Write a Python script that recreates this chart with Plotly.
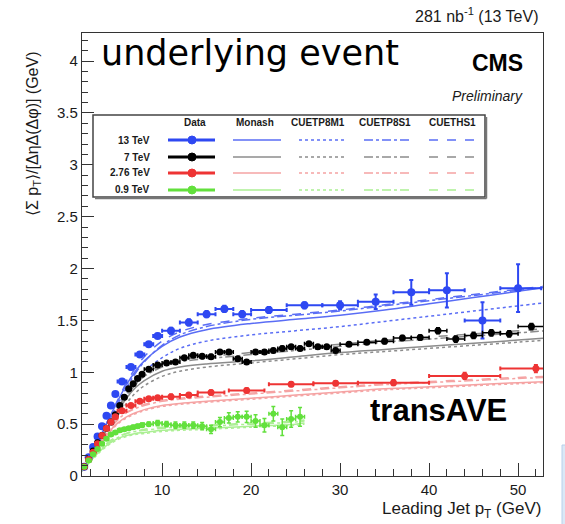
import plotly.graph_objects as go

# ---------------- measured transverse-average density ----------------
# 13 TeV
x13 = [1.25, 1.75, 2.25, 2.75, 3.25, 3.75, 4.25, 4.75, 5.5, 6.5, 7.5, 8.5, 9.5,
       11, 13, 15, 17, 19, 22, 26, 30, 34, 38, 42, 46, 50]
y13 = [0.09, 0.18, 0.28, 0.38, 0.48, 0.58, 0.68, 0.79, 0.91, 1.05, 1.17, 1.27, 1.35,
       1.40, 1.48, 1.56, 1.61, 1.56, 1.60, 1.645, 1.645, 1.68, 1.77, 1.79, 1.50, 1.81]
ey13 = [0.01, 0.01, 0.01, 0.01, 0.01, 0.01, 0.01, 0.01, 0.02, 0.02, 0.02, 0.02, 0.02,
        0.03, 0.03, 0.03, 0.03, 0.03, 0.03, 0.03, 0.04, 0.07, 0.12, 0.165, 0.175, 0.23]
ex13 = [0.25, 0.25, 0.25, 0.25, 0.25, 0.25, 0.25, 0.25, 0.5, 0.5, 0.5, 0.5, 0.5,
        1, 1, 1, 1, 1, 2, 2, 2, 2, 2, 2, 2, 2.6]
exm13 = [0.25, 0.25, 0.25, 0.25, 0.25, 0.25, 0.25, 0.25, 0.5, 0.5, 0.5, 0.5, 0.5,
         1, 1, 1, 1, 1, 2, 2, 2, 2, 2, 2, 2, 2]

# 7 TeV
x7 = [1.25, 1.75, 2.25, 2.75, 3.25, 3.75, 4.25, 4.75, 5.25, 5.75, 6.25, 6.75, 7.25, 7.75,
      8.5, 9.5, 10.5, 11.5, 12.5, 13.5, 14.5, 15.5, 16.5, 17.5, 18.5, 19.5, 20.5, 21.5,
      22.5, 23.5, 24.5, 25.5, 26.5, 27.5, 28.5, 29.5,
      31, 33, 35, 37, 39, 41, 43, 45, 47, 49, 51.5]
y7 = [0.09, 0.16, 0.24, 0.32, 0.39, 0.46, 0.52, 0.59, 0.68, 0.76, 0.84, 0.89, 0.94, 0.98,
      1.03, 1.07, 1.09, 1.10, 1.14, 1.165, 1.155, 1.15, 1.195, 1.195, 1.13, 1.10, 1.195, 1.195,
      1.21, 1.23, 1.245, 1.23, 1.275, 1.245, 1.245, 1.21,
      1.27, 1.29, 1.30, 1.33, 1.335, 1.40, 1.32, 1.355, 1.38, 1.37, 1.44]
ey7 = [0.01, 0.01, 0.01, 0.01, 0.01, 0.01, 0.01, 0.01, 0.01, 0.01, 0.01, 0.01, 0.01, 0.01,
       0.015, 0.015, 0.015, 0.015, 0.015, 0.015, 0.015, 0.02, 0.02, 0.02, 0.02, 0.02, 0.02, 0.02,
       0.02, 0.02, 0.02, 0.02, 0.02, 0.02, 0.02, 0.02,
       0.02, 0.02, 0.025, 0.025, 0.025, 0.03, 0.03, 0.03, 0.03, 0.03, 0.03]
ex7 = [0.25, 0.25, 0.25, 0.25, 0.25, 0.25, 0.25, 0.25, 0.25, 0.25, 0.25, 0.25, 0.25, 0.25,
       0.5, 0.5, 0.5, 0.5, 0.5, 0.5, 0.5, 0.5, 0.5, 0.5, 0.5, 0.5, 0.5, 0.5,
       0.5, 0.5, 0.5, 0.5, 0.5, 0.5, 0.5, 0.5,
       1, 1, 1, 1, 1, 1, 1, 1, 1, 1, 1.5]

# 2.76 TeV
x276 = [1.25, 1.75, 2.25, 2.75, 3.25, 3.75, 4.25, 4.75, 5.5, 6.5, 7.5, 8.5, 9.5,
        11, 13, 15.5, 19.5, 24.5, 29.5, 36, 44, 52]
y276 = [0.09, 0.16, 0.23, 0.31, 0.39, 0.46, 0.52, 0.57, 0.63, 0.68, 0.72, 0.745, 0.755,
        0.765, 0.78, 0.805, 0.825, 0.885, 0.895, 0.90, 0.965, 1.035]
ey276 = [0.01, 0.01, 0.01, 0.01, 0.01, 0.01, 0.01, 0.01, 0.015, 0.015, 0.015, 0.015, 0.015,
         0.02, 0.02, 0.02, 0.02, 0.02, 0.02, 0.025, 0.03, 0.035]
ex276 = [0.25, 0.25, 0.25, 0.25, 0.25, 0.25, 0.25, 0.25, 0.5, 0.5, 0.5, 0.5, 0.5,
         1, 1, 1.5, 2, 2.5, 2.5, 4, 4, 4]

# 0.9 TeV
x09 = [1.25, 1.75, 2.25, 2.75, 3.25, 3.75, 4.25, 4.75, 5.25, 5.75, 6.25, 6.75, 7.25, 7.75,
       8.5, 9.5, 10.5, 11.5, 12.5, 13.5, 14.5, 15.5, 16.5, 17.5, 18.5, 19.5, 20.5, 21.5,
       22.5, 23.5, 24.5, 25.5]
y09 = [0.09, 0.15, 0.21, 0.26, 0.31, 0.36, 0.40, 0.42, 0.44, 0.45, 0.46, 0.47, 0.48, 0.49,
       0.50, 0.51, 0.50, 0.49, 0.49, 0.49, 0.48, 0.45, 0.52, 0.56, 0.57, 0.57, 0.53, 0.49,
       0.60, 0.47, 0.55, 0.57]
ey09 = [0.01, 0.01, 0.01, 0.01, 0.01, 0.01, 0.01, 0.015, 0.015, 0.015, 0.015, 0.02, 0.02, 0.02,
        0.02, 0.025, 0.025, 0.03, 0.03, 0.03, 0.035, 0.04, 0.045, 0.05, 0.05, 0.055, 0.06, 0.065,
        0.07, 0.08, 0.08, 0.09]
ex09 = [0.25, 0.25, 0.25, 0.25, 0.25, 0.25, 0.25, 0.25, 0.25, 0.25, 0.25, 0.25, 0.25, 0.25,
        0.5, 0.5, 0.5, 0.5, 0.5, 0.5, 0.5, 0.5, 0.5, 0.5, 0.5, 0.5, 0.5, 0.5,
        0.5, 0.5, 0.5, 0.5]

# ---------------- model predictions ----------------
xm = [1, 2, 3, 4, 5, 6, 7, 8, 10, 12, 15, 20, 25, 30, 35, 40, 45, 50, 53]
m13 = {
    "Monash":   [0.05, 0.20, 0.37, 0.55, 0.72, 0.88, 1.01, 1.11, 1.25, 1.34, 1.41, 1.47, 1.51, 1.55, 1.60, 1.66, 1.72, 1.78, 1.82],
    "CUETP8M1": [0.05, 0.18, 0.33, 0.49, 0.65, 0.79, 0.91, 1.01, 1.14, 1.23, 1.30, 1.36, 1.40, 1.44, 1.49, 1.54, 1.59, 1.64, 1.67],
    "CUETP8S1": [0.05, 0.19, 0.35, 0.52, 0.69, 0.85, 0.99, 1.10, 1.26, 1.36, 1.44, 1.51, 1.55, 1.59, 1.64, 1.69, 1.74, 1.79, 1.82],
    "CUETHS1":  [0.05, 0.20, 0.37, 0.55, 0.73, 0.90, 1.04, 1.15, 1.30, 1.39, 1.46, 1.52, 1.56, 1.60, 1.65, 1.70, 1.75, 1.80, 1.83],
}
m7 = {
    "Monash":   [0.05, 0.18, 0.33, 0.48, 0.62, 0.75, 0.85, 0.92, 1.01, 1.05, 1.08, 1.11, 1.15, 1.19, 1.22, 1.25, 1.28, 1.31, 1.33],
    "CUETP8M1": [0.05, 0.17, 0.31, 0.45, 0.58, 0.70, 0.80, 0.87, 0.96, 1.01, 1.05, 1.09, 1.13, 1.17, 1.20, 1.23, 1.26, 1.29, 1.31],
    "CUETP8S1": [0.05, 0.18, 0.33, 0.48, 0.63, 0.77, 0.88, 0.96, 1.05, 1.10, 1.13, 1.17, 1.21, 1.25, 1.29, 1.32, 1.35, 1.38, 1.40],
    "CUETHS1":  [0.05, 0.18, 0.34, 0.50, 0.65, 0.79, 0.90, 0.98, 1.07, 1.12, 1.15, 1.19, 1.23, 1.27, 1.31, 1.34, 1.37, 1.40, 1.42],
}
m276 = {
    "Monash":   [0.05, 0.17, 0.30, 0.42, 0.51, 0.57, 0.61, 0.64, 0.68, 0.70, 0.72, 0.75, 0.78, 0.81, 0.84, 0.86, 0.88, 0.90, 0.91],
    "CUETP8M1": [0.05, 0.16, 0.29, 0.41, 0.50, 0.56, 0.60, 0.63, 0.67, 0.69, 0.71, 0.74, 0.77, 0.80, 0.83, 0.85, 0.87, 0.89, 0.90],
    "CUETP8S1": [0.05, 0.17, 0.31, 0.44, 0.54, 0.61, 0.65, 0.68, 0.72, 0.74, 0.76, 0.79, 0.82, 0.85, 0.88, 0.90, 0.92, 0.94, 0.95],
    "CUETHS1":  [0.05, 0.17, 0.31, 0.44, 0.54, 0.61, 0.66, 0.69, 0.73, 0.75, 0.77, 0.80, 0.83, 0.86, 0.89, 0.91, 0.93, 0.95, 0.96],
}
xm09 = [1, 2, 3, 4, 5, 6, 7, 8, 10, 12, 15, 20, 25, 26]
m09 = {
    "Monash":   [0.05, 0.15, 0.24, 0.31, 0.36, 0.39, 0.41, 0.42, 0.44, 0.45, 0.46, 0.48, 0.50, 0.51],
    "CUETP8M1": [0.05, 0.14, 0.23, 0.30, 0.35, 0.38, 0.40, 0.41, 0.43, 0.44, 0.45, 0.47, 0.49, 0.50],
    "CUETP8S1": [0.05, 0.15, 0.25, 0.32, 0.37, 0.41, 0.43, 0.44, 0.46, 0.47, 0.48, 0.50, 0.52, 0.53],
    "CUETHS1":  [0.05, 0.15, 0.25, 0.33, 0.38, 0.41, 0.43, 0.45, 0.47, 0.48, 0.49, 0.51, 0.53, 0.54],
}

energies = ["13 TeV", "7 TeV", "2.76 TeV", "0.9 TeV"]
tunes = ["Monash", "CUETP8M1", "CUETP8S1", "CUETHS1"]
tune_dash = {"Monash": "solid", "CUETP8M1": "dot", "CUETP8S1": "dashdot", "CUETHS1": "dash"}
data_color = ["#2e48f2", "#000000", "#ee3434", "#62e03c"]
model_color = ["#5a6df5", "#8c8c8c", "#f5a3a3", "#abef93"]
marker_size = [8, 7, 7, 6]
bar_width = [2, 1.5, 2, 1.5]

series = [
    (x13, y13, ey13, ex13, exm13, xm, m13),
    (x7, y7, ey7, ex7, ex7, xm, m7),
    (x276, y276, ey276, ex276, ex276, xm, m276),
    (x09, y09, ey09, ex09, ex09, xm09, m09),
]

FONT = "Liberation Sans"
fig = go.Figure()

# model curves underneath the data
for i, (_, _, _, _, _, xmod, models) in enumerate(series):
    for t in tunes:
        fig.add_trace(go.Scatter(
            x=xmod, y=models[t], mode="lines", line_shape="spline",
            line=dict(color=model_color[i], width=1.5, dash=tune_dash[t]),
            showlegend=False, hoverinfo="skip"))

# measured points with error bars
for i, (x, y, ey, exp, exm, _, _) in enumerate(series):
    fig.add_trace(go.Scatter(
        x=x, y=y, mode="markers",
        marker=dict(color=data_color[i], size=marker_size[i]),
        error_y=dict(type="data", array=ey, color=data_color[i],
                     thickness=bar_width[i], width=2),
        error_x=dict(type="data", array=exp, arrayminus=exm, color=data_color[i],
                     thickness=bar_width[i], width=2),
        showlegend=False, hoverinfo="skip"))

# ---------------- legend table ----------------
shapes = []
annotations = []
PX_W, PX_H = 461.0, 443.0

def px(xp):
    return (xp - 82) / PX_W

def py(yp):
    return (476 - yp) / PX_H

shapes.append(dict(type="rect", xref="paper", yref="paper",
                   x0=px(93), x1=px(485), y0=py(197), y1=py(115),
                   line=dict(color="#444444", width=1.5), fillcolor="white", layer="above"))
shapes.append(dict(type="line", xref="paper", yref="paper",
                   x0=px(95), x1=px(486.5), y0=py(198.5), y1=py(198.5),
                   line=dict(color="#777777", width=1.5)))
shapes.append(dict(type="line", xref="paper", yref="paper",
                   x0=px(486.5), x1=px(486.5), y0=py(198.5), y1=py(117),
                   line=dict(color="#777777", width=1.5)))

header_x = [195, 255, 318, 385, 452]
for hx, label in zip(header_x, ["Data"] + tunes):
    annotations.append(dict(xref="paper", yref="paper", x=px(hx), y=py(123),
                            text=f"<b>{label}</b>", showarrow=False,
                            font=dict(family=FONT, size=10, color="#1a1a1a"),
                            xanchor="center", yanchor="middle"))

row_y = [140, 157, 173, 190]
col_span = [(168, 215), (233, 281), (299, 347), (364, 411), (429, 477)]
for i, (ry, label) in enumerate(zip(row_y, energies)):
    annotations.append(dict(xref="paper", yref="paper", x=px(152), y=py(ry),
                            text=f"<b>{label}</b>", showarrow=False,
                            font=dict(family=FONT, size=10, color="#1a1a1a"),
                            xanchor="right", yanchor="middle"))
    a, b = col_span[0]
    shapes.append(dict(type="line", xref="paper", yref="paper",
                       x0=px(a), x1=px(b), y0=py(ry), y1=py(ry),
                       line=dict(color=data_color[i], width=3)))
    shapes.append(dict(type="circle", xref="paper", yref="paper",
                       x0=px(188), x1=px(196), y0=py(ry + 4), y1=py(ry - 4),
                       line=dict(color=data_color[i], width=1), fillcolor=data_color[i]))
    for (a, b), t in zip(col_span[1:], tunes):
        shapes.append(dict(type="line", xref="paper", yref="paper",
                           x0=px(a), x1=px(b), y0=py(ry), y1=py(ry),
                           line=dict(color=model_color[i], width=1.5, dash=tune_dash[t])))

# ---------------- labels ----------------
annotations += [
    dict(xref="paper", yref="paper", x=px(541), y=py(15), xanchor="right", yanchor="middle",
         text="281 nb<sup>-1</sup> (13 TeV)", showarrow=False,
         font=dict(family=FONT, size=16, color="#1a1a1a")),
    dict(xref="paper", yref="paper", x=px(99), y=py(53), xanchor="left", yanchor="middle",
         text="underlying event", showarrow=False,
         font=dict(family="DejaVu Sans", size=35, color="#000000")),
    dict(xref="paper", yref="paper", x=px(525), y=py(63), xanchor="right", yanchor="middle",
         text="<b>CMS</b>", showarrow=False,
         font=dict(family=FONT, size=23, color="#000000")),
    dict(xref="paper", yref="paper", x=px(525), y=py(96), xanchor="right", yanchor="middle",
         text="<i>Preliminary</i>", showarrow=False,
         font=dict(family=FONT, size=14, color="#1a1a1a")),
    dict(xref="paper", yref="paper", x=px(368), y=py(410), xanchor="left", yanchor="middle",
         text="<b>transAVE</b>", showarrow=False,
         font=dict(family=FONT, size=31, color="#000000")),
    dict(xref="paper", yref="paper", x=px(543), y=py(497), xanchor="right", yanchor="top",
         text="Leading Jet p<sub>T</sub> (GeV)", showarrow=False,
         font=dict(family=FONT, size=17, color="#1a1a1a")),
    dict(xref="paper", yref="paper", x=px(33), y=py(134), xanchor="center", yanchor="middle",
         textangle=-90, text="⟨Σ p<sub>T</sub>⟩/[ΔηΔ(Δφ)] (GeV)", showarrow=False,
         font=dict(family=FONT, size=16, color="#1a1a1a")),
]

# thin light-blue strip at the lower right edge of the page
shapes.append(dict(type="rect", xref="paper", yref="paper",
                   x0=px(562), x1=px(566), y0=py(526), y1=py(445),
                   line=dict(color="#b8d0ea", width=1), fillcolor="#dbe8f6", layer="above"))

axis_common = dict(showgrid=False, zeroline=False, showline=True, linecolor="#333333",
                   linewidth=1.3, mirror=True, ticks="inside", tickcolor="#333333",
                   tickfont=dict(family=FONT, size=15, color="#1a1a1a"))

fig.update_layout(
    width=565, height=524,
    margin=dict(l=82, r=22, t=33, b=48),
    paper_bgcolor="white", plot_bgcolor="white",
    showlegend=False,
    shapes=shapes, annotations=annotations,
    xaxis=dict(range=[1.0, 52.8], tick0=0, dtick=10, ticklen=13, tickwidth=1.3,
               minor=dict(ticks="inside", dtick=2, ticklen=7, tickcolor="#333333", showgrid=False),
               **axis_common),
    yaxis=dict(range=[0, 4.27], tick0=0, dtick=0.5, ticklen=12, tickwidth=1.3,
               minor=dict(ticks="inside", dtick=0.1, ticklen=6, tickcolor="#333333", showgrid=False),
               **axis_common),
)

fig.write_html("out.html")
